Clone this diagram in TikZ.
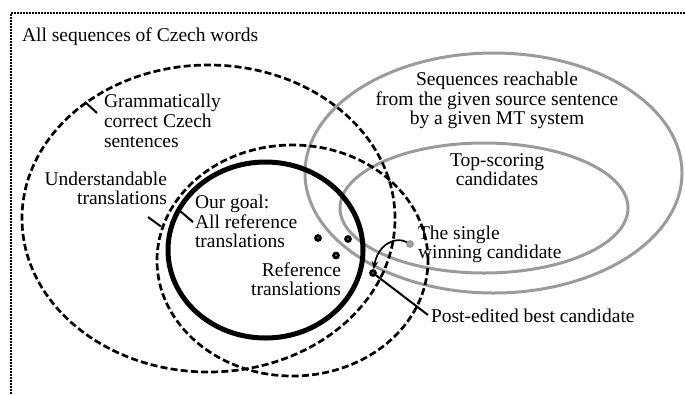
\documentclass[tikz,border=0pt]{standalone}
\usepackage{fontspec}
\setmainfont{Liberation Serif}
\usetikzlibrary{arrows.meta}
\definecolor{ellgray}{RGB}{155,155,155}
\begin{document}
\begin{tikzpicture}[x=1bp,y=-1bp,
  txt/.style={inner sep=0pt, outer sep=0pt, font=\fontsize{19.5bp}{19.7bp}\selectfont},
  frame/.style={line width=2.4bp, dash pattern=on 1.6bp off 1.4bp},
  dashell/.style={line width=2.7bp, dash pattern=on 7bp off 3.2bp},
  grayell/.style={line width=3bp, draw=ellgray},
  goalell/.style={line width=5bp},
  leader/.style={line width=2bp},
  refdot/.style={circle, draw=black, fill=white, line width=3bp, minimum size=4.6bp, inner sep=0pt},
  graydot/.style={circle, draw=ellgray, fill=white, line width=3bp, minimum size=4.6bp, inner sep=0pt},
]
\useasboundingbox (0,0) rectangle (685,394);

% frame (top and left)
\coordinate (fTL) at (11,13);
\coordinate (fTR) at (685,13);
\coordinate (fBL) at (11,394);
\draw[frame] (fTR) -- (fTL) -- (fBL);

% gray ellipses
\draw[grayell] (493.5,173) ellipse [x radius=188.5bp, y radius=120bp];
\draw[grayell] (484,208) ellipse [x radius=144bp, y radius=65bp];

% dashed ellipses
\draw[dashell] (208.5,218.5) ellipse [x radius=186.5bp, y radius=153.5bp];
\draw[dashell] (292.5,260.5) ellipse [x radius=135.5bp, y radius=115.5bp];

% goal ellipse
\draw[goalell] (265.5,250) ellipse [x radius=97.5bp, y radius=88bp];

% texts
\node[txt, anchor=base west] (all) at (22,41.5) {All sequences of Czech words};

\node[txt, anchor=base west] (gram1) at (104,107) {Grammatically};
\node[txt, anchor=base west] (gram2) at (104,127) {correct Czech};
\node[txt, anchor=base west] (gram3) at (104,147) {sentences};

\node[txt, anchor=base east] (und1) at (167,185) {Understandable};
\node[txt, anchor=base east] (und2) at (167,204.5) {translations};

\node[txt, anchor=base west] (goal1) at (195,208) {Our goal:};
\node[txt, anchor=base west] (goal2) at (195,228) {All reference};
\node[txt, anchor=base west] (goal3) at (195,247.5) {translations};

\node[txt, anchor=base east] (ref1) at (341,276) {Reference};
\node[txt, anchor=base east] (ref2) at (341,295) {translations};

\node[txt, anchor=base] (seq1) at (497,85) {Sequences reachable};
\node[txt, anchor=base] (seq2) at (497,105) {from the given source sentence};
\node[txt, anchor=base] (seq3) at (497,124.5) {by a given MT system};

\node[txt, anchor=base] (top1) at (497,166.5) {Top-scoring};
\node[txt, anchor=base] (top2) at (497,185.5) {candidates};

\node[txt, anchor=base west] (win1) at (418,239) {The single};
\node[txt, anchor=base west] (win2) at (418,258.5) {winning candidate};

\node[txt, anchor=base west] (post) at (431,322) {Post-edited best candidate};

% leaders
\coordinate (gramA) at (85,102);
\coordinate (gramB) at (97,113);
\draw[leader] (gramA) -- (gramB);
\coordinate (undA) at (148,217);
\coordinate (undB) at (161,226.5);
\draw[leader] (undA) -- (undB);
\coordinate (goalA) at (180,211);
\coordinate (goalB) at (193,222);
\draw[leader] (goalA) -- (goalB);

% dots
\node[refdot] (r1) at (318,238) {};
\node[refdot] (r2) at (348,239) {};
\node[refdot] (r3) at (336,255.5) {};
\node[refdot] (pe) at (373,273) {};
\node[graydot] (wd) at (410,244) {};

% connectors
\coordinate (postA) at (428,315);
\draw[leader] (pe) -- (postA);
\draw[line width=1.7bp, -{Stealth[length=8bp,width=6.5bp]}] (wd) .. controls (396,236) and (378,244) .. (pe);
\end{tikzpicture}
\end{document}
